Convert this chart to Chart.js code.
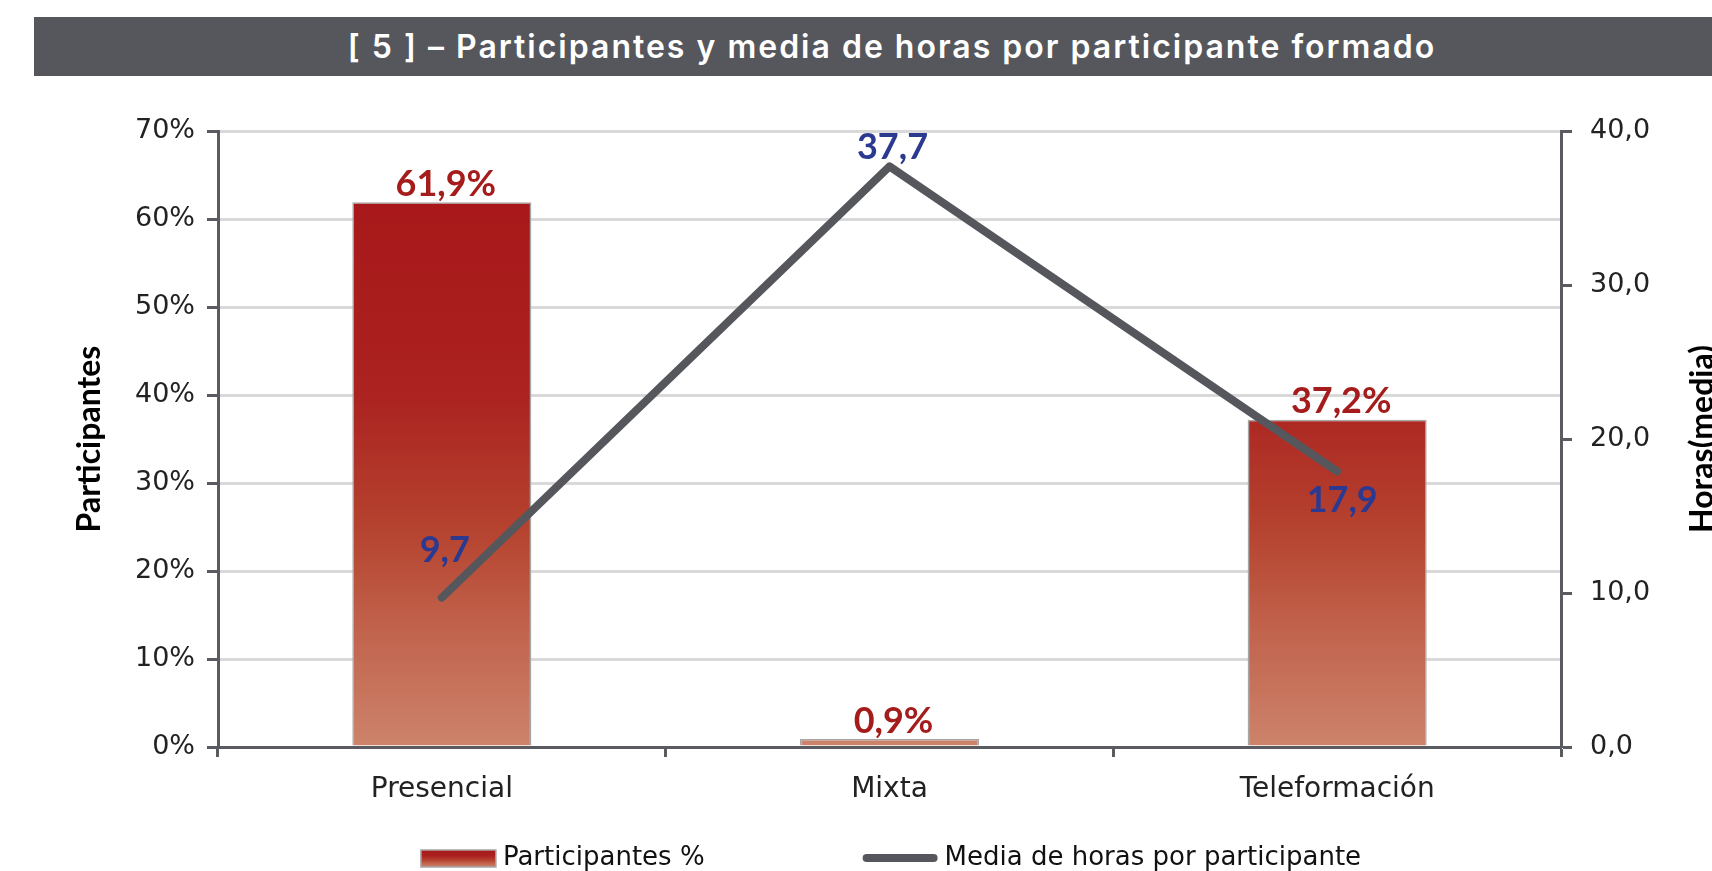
<!DOCTYPE html>
<html lang="es">
<head>
<meta charset="utf-8">
<title>Participantes y media de horas por participante formado</title>
<script src="https://cdn.jsdelivr.net/npm/chart.js@4.4.1/dist/chart.umd.min.js"></script>
<style>
    html, body { margin: 0; padding: 0; background: #fff; overflow: hidden; width: 1712px; height: 871px; }
    #wrap { position: relative; width: 1782px; height: 871px; }
    #titleBar {
        position: absolute; left: 34px; top: 17px; width: 1716px; height: 59px;
        background: #55575d; color: #fff; text-align: center;
        font: 600 32px Inter, "Noto Sans", sans-serif; line-height: 59px;
        letter-spacing: 2px; white-space: nowrap;
    }
    canvas { position: absolute; left: 0; top: 0; }
</style>
</head>
<body>
<div id="wrap">
    <canvas id="chart" width="1782" height="871"></canvas>
    <div id="titleBar">[ 5 ] – Participantes y media de horas por participante formado</div>
</div>
<script>
// data
const categories = ['Presencial', 'Mixta', 'Teleformación'];
const participantesPct = [61.9, 0.9, 37.2];
const mediaHoras = [9.7, 37.7, 17.9];
const pctTicks = [0, 10, 20, 30, 40, 50, 60, 70];
const horasTicks = [0, 10, 20, 30, 40];

// where each hours label sits relative to its point (dx, dy)
const horasLabelOffsets = [[3, -47], [3, -19], [5, 29]];

const AXIS = '#595b60';
const LINE = '#55575d';
const GRID = '#d9d9d9';
const RED_TXT = '#a51c1c';
const BLUE_TXT = '#2b3990';

const comma = (v, d) => v.toFixed(d).replace('.', ',');

function redGradient(ctx, top, bottom) {
    const g = ctx.createLinearGradient(0, top, 0, bottom);
    g.addColorStop(0, '#a8181a');
    g.addColorStop(0.35, '#ab2220');
    g.addColorStop(0.6, '#b5432f');
    g.addColorStop(0.8, '#c2654f');
    g.addColorStop(1, '#cd836b');
    return g;
}

function barFill(context) {
    const chart = context.chart;
    const y = chart.scales.y;
    if (!chart.chartArea || !y) return '#b03a2e';
    return redGradient(chart.ctx, y.getPixelForValue(Math.max(...participantesPct)), y.getPixelForValue(0));
}

// value labels above bars and beside line points
const valueLabels = {
    id: 'valueLabels',
    afterDatasetsDraw(chart) {
        const ctx = chart.ctx;
        ctx.save();
        ctx.textAlign = 'center';
        ctx.textBaseline = 'middle';
        ctx.font = 'bold 36px Lato';

        ctx.fillStyle = RED_TXT;
        chart.getDatasetMeta(0).data.forEach((bar, i) => {
            ctx.fillText(comma(participantesPct[i], 1) + '%', bar.x + 4, bar.y - 18);
        });

        ctx.fillStyle = BLUE_TXT;
        chart.getDatasetMeta(1).data.forEach((pt, i) => {
            const [dx, dy] = horasLabelOffsets[i];
            ctx.fillText(comma(mediaHoras[i], 1), pt.x + dx, pt.y + dy);
        });
        ctx.restore();
    }
};

// right axis title, read bottom-to-top like the left one
const rightTitle = {
    id: 'rightTitle',
    afterDraw(chart) {
        const ctx = chart.ctx;
        const area = chart.chartArea;
        ctx.save();
        ctx.translate(area.right + 142, (area.top + area.bottom) / 2);
        ctx.rotate(-Math.PI / 2);
        ctx.textAlign = 'center';
        ctx.textBaseline = 'middle';
        ctx.font = 'bold 32px Lato';
        ctx.fillStyle = '#000';
        ctx.fillText('Horas(media)', 0, 0);
        ctx.restore();
    }
};

// single row legend at the bottom
const bottomLegend = {
    id: 'bottomLegend',
    afterDraw(chart) {
        const ctx = chart.ctx;
        const cy = chart.height - 13;
        const swatchW = 75, textGap = 7, itemGap = 158;
        ctx.save();
        ctx.font = '26px "DejaVu Sans"';
        ctx.textBaseline = 'middle';
        const items = chart.data.datasets;
        const widths = items.map(ds => swatchW + textGap + ctx.measureText(ds.label).width);
        const total = widths.reduce((a, b) => a + b, 0) + itemGap * (items.length - 1);
        let x = chart.width / 2 - total / 2;
        items.forEach((ds, i) => {
            if (ds.type === 'bar') {
                ctx.fillStyle = redGradient(ctx, cy - 8, cy + 9);
                ctx.fillRect(x, cy - 8, swatchW, 17);
                ctx.strokeStyle = '#a6a6a6';
                ctx.lineWidth = 1.5;
                ctx.strokeRect(x, cy - 8, swatchW, 17);
            } else {
                ctx.strokeStyle = LINE;
                ctx.lineWidth = 8;
                ctx.lineCap = 'round';
                ctx.beginPath();
                ctx.moveTo(x + 4, cy);
                ctx.lineTo(x + swatchW - 4, cy);
                ctx.stroke();
            }
            ctx.fillStyle = '#111';
            ctx.fillText(ds.label, x + swatchW + textGap, cy);
            x += widths[i] + itemGap;
        });
        ctx.restore();
    }
};

const xTickFont = { family: '"DejaVu Sans"', size: 28 };
const yTickFont = { family: '"DejaVu Sans"', size: 27 };

new Chart(document.getElementById('chart'), {
    data: {
        labels: categories,
        datasets: [{
            type: 'bar',
            label: 'Participantes %',
            data: participantesPct,
            yAxisID: 'y',
            order: 1,
            backgroundColor: barFill,
            borderColor: '#a6a6a6',
            borderWidth: 1.5,
            barPercentage: 0.4,
            categoryPercentage: 1.0
        }, {
            type: 'line',
            label: 'Media de horas por participante',
            data: mediaHoras,
            yAxisID: 'y1',
            order: 0,
            borderColor: LINE,
            borderWidth: 8,
            borderCapStyle: 'round',
            borderJoinStyle: 'round',
            pointRadius: 0,
            tension: 0
        }]
    },
    options: {
        responsive: false,
        animation: false,
        layout: { padding: { top: 131, left: 0, right: 0, bottom: 0 } },
        plugins: {
            legend: { display: false },
            tooltip: { enabled: false }
        },
        scales: {
            x: {
                offset: true,
                grid: {
                    offset: true,
                    drawOnChartArea: false,
                    tickLength: 10,
                    tickColor: AXIS,
                    tickWidth: 3
                },
                border: { color: AXIS, width: 3 },
                ticks: { font: xTickFont, color: '#222', padding: 16 },
                afterFit: s => { s.height = 124; }
            },
            y: {
                position: 'left',
                min: pctTicks[0],
                max: pctTicks[pctTicks.length - 1],
                afterBuildTicks: s => { s.ticks = pctTicks.map(v => ({ value: v })); },
                grid: {
                    color: c => (c.tick && c.tick.value === 0 ? 'rgba(0,0,0,0)' : GRID),
                    lineWidth: 3,
                    tickLength: 11,
                    tickColor: AXIS,
                    tickWidth: 3
                },
                border: { color: AXIS, width: 3 },
                ticks: { font: yTickFont, color: '#222', padding: 12, callback: v => v + '%' },
                title: {
                    display: true,
                    text: 'Participantes',
                    color: '#000',
                    font: { family: 'Lato', weight: 'bold', size: 32 },
                    padding: { top: 70, bottom: 0 }
                },
                afterFit: s => { s.width = 218; }
            },
            y1: {
                position: 'right',
                min: horasTicks[0],
                max: horasTicks[horasTicks.length - 1],
                afterBuildTicks: s => { s.ticks = horasTicks.map(v => ({ value: v })); },
                grid: {
                    drawOnChartArea: false,
                    tickLength: 11,
                    tickColor: AXIS,
                    tickWidth: 3
                },
                border: { color: AXIS, width: 3 },
                ticks: { font: yTickFont, color: '#222', padding: 18, callback: v => comma(v, 1) },
                afterFit: s => { s.width = 221; }
            }
        }
    },
    plugins: [valueLabels, rightTitle, bottomLegend]
});
</script>
</body>
</html>
